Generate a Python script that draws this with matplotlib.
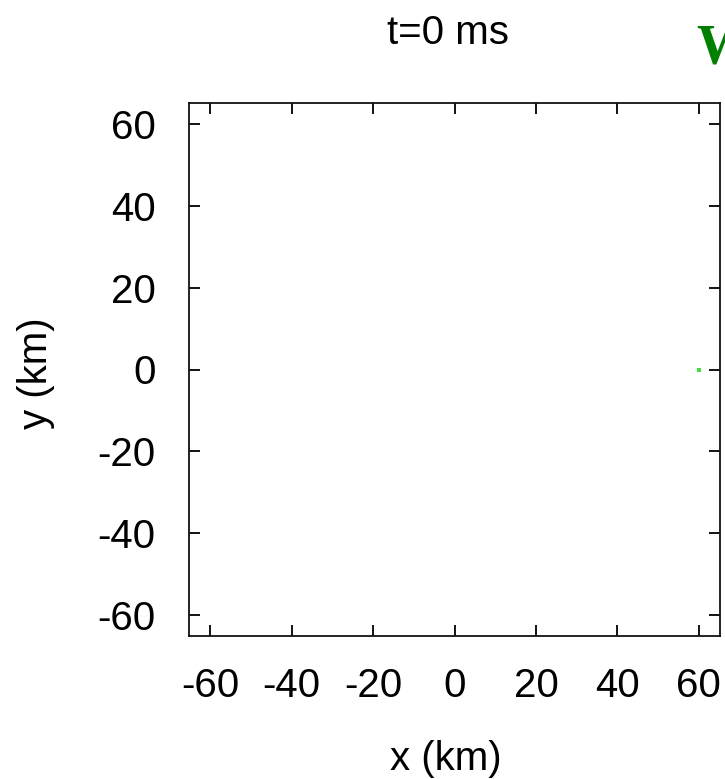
import matplotlib
matplotlib.use('Agg')
import matplotlib.pyplot as plt

# data
x_ticks = [-60, -40, -20, 0, 20, 40, 60]
y_ticks = [-60, -40, -20, 0, 20, 40, 60]
point_x = [60]
point_y = [0]
title_text = 't=0 ms'
side_text = 'W'

plt.rcParams['font.family'] = ['Liberation Sans', 'DejaVu Sans']
plt.rcParams['axes.unicode_minus'] = False

fig = plt.figure(figsize=(7.25, 7.79), dpi=100)
ax = fig.add_axes([189 / 725, 1 - 636 / 779, (720 - 189) / 725, (636 - 103) / 779])

ax.plot(point_x, point_y, 's', color='#44dd44', markersize=2.5, markeredgewidth=0)

ax.set_xlim(-65.2, 65.2)
ax.set_ylim(-65.2, 65.2)
ax.set_xticks(x_ticks)
ax.set_yticks(y_ticks)
ax.tick_params(direction='in', length=7.7, width=1.3, labelsize=29,
               top=True, right=True, colors='black')
ax.tick_params(axis='x', pad=22)
ax.tick_params(axis='y', pad=24)
for s in ax.spines.values():
    s.set_linewidth(1.3)
    s.set_color('#111111')

fig.text(446 / 725, 1 - 759 / 779, 'x (km)', ha='center', va='center', fontsize=29)
fig.text(36 / 725, 1 - 373 / 779, 'y (km)', ha='center', va='center', fontsize=29, rotation=90)
fig.text(448 / 725, 1 - 44 / 779, title_text, ha='center', va='baseline', fontsize=29)
fig.text(696 / 725, 1 - 64 / 779, side_text, ha='left', va='baseline', fontsize=40,
         fontweight='bold', family='Liberation Serif', color='#008000')

fig.savefig('out.png', dpi=100)
